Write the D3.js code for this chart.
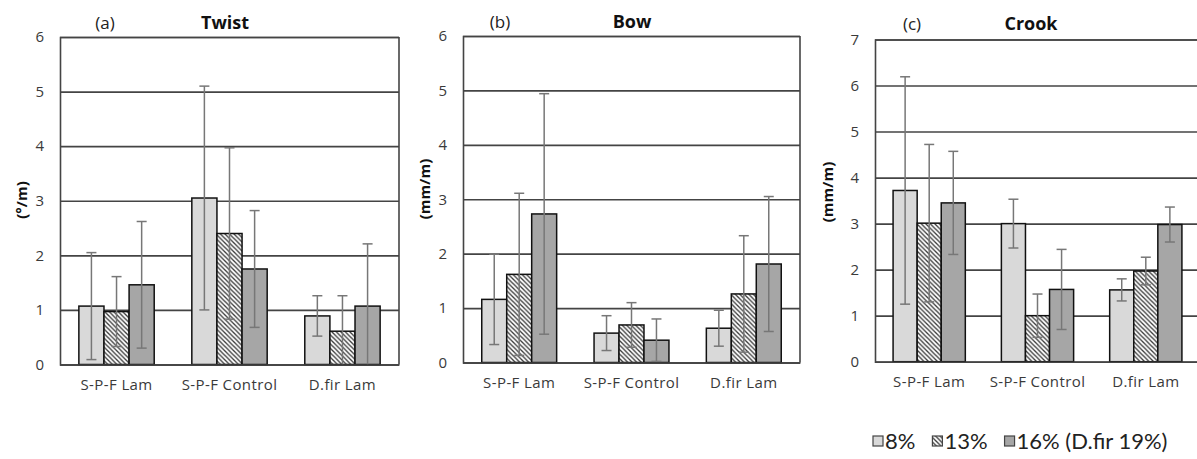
<!DOCTYPE html>
<html>
<head>
<meta charset="utf-8">
<script src="https://cdn.jsdelivr.net/npm/d3@7"></script>
<style>
  html, body { margin: 0; padding: 0; background: #fff; }
  svg { display: block; }
  svg text { font-family: "Open Sans", sans-serif; }
</style>
</head>
<body>
<div id="chart"></div>
<script>
// categories and series
const categories = ["S-P-F Lam", "S-P-F Control", "D.fir Lam"];
const seriesLabels = ["8%", "13%", "16% (D.fir 19%)"];

// values per category: [8%, 13%, 16%]
const twistMean = [[1.07, 0.97, 1.46], [3.05, 2.40, 1.75], [0.89, 0.61, 1.07]];
const twistErr  = [[0.98, 0.64, 1.16], [2.05, 1.57, 1.07], [0.37, 0.65, 1.14]];
const bowMean   = [[1.16, 1.62, 2.73], [0.54, 0.69, 0.41], [0.63, 1.26, 1.81]];
const bowErr    = [[0.83, 1.49, 2.21], [0.32, 0.41, 0.39], [0.33, 1.07, 1.24]];
const crookMean = [[3.72, 3.01, 3.45], [3.00, 1.00, 1.57], [1.56, 1.97, 2.98]];
const crookErr  = [[2.47, 1.71, 1.12], [0.53, 0.47, 0.87], [0.24, 0.30, 0.38]];

const twistTicks = [0, 1, 2, 3, 4, 5, 6];
const bowTicks = [0, 1, 2, 3, 4, 5, 6];
const crookTicks = [0, 1, 2, 3, 4, 5, 6, 7];

const panels = [
  {tag: "(a)", title: "Twist", unit: "(\u00b0/m)", mean: twistMean, err: twistErr, ticks: twistTicks,
   left: 60, right: 399, top: 37, bottom: 364.5, tagX: 105, titleX: 225, titleY: 29, unitX: 22, unitY: 200, box: true},
  {tag: "(b)", title: "Bow", unit: "(mm/m)", mean: bowMean, err: bowErr, ticks: bowTicks,
   left: 463, right: 800, top: 36, bottom: 362.5, tagX: 500, titleX: 632, titleY: 28, unitX: 425, unitY: 189, box: true},
  {tag: "(c)", title: "Crook", unit: "(mm/m)", mean: crookMean, err: crookErr, ticks: crookTicks,
   left: 875, right: 1200, top: 39.5, bottom: 361.7, tagX: 912, titleX: 1031, titleY: 30, unitX: 828, unitY: 192, box: false}
];

const fills = ["#d9d9d9", "url(#hatch)", "#a6a6a6"];

const svg = d3.select("#chart").append("svg")
  .attr("width", 1197)
  .attr("height", 459);

// diagonal hatch for the 13% series
const defs = svg.append("defs");
const pat = defs.append("pattern")
  .attr("id", "hatch")
  .attr("patternUnits", "userSpaceOnUse")
  .attr("width", 4.5)
  .attr("height", 4.5);
pat.append("rect").attr("width", 4.5).attr("height", 4.5).attr("fill", "#fff");
pat.append("path")
  .attr("d", "M0,0 L4.5,4.5 M-1,3.5 L1,5.5 M3.5,-1 L5.5,1")
  .attr("stroke", "#3a3a3a")
  .attr("stroke-width", 1.3);

panels.forEach(p => {
  const g = svg.append("g");

  const x = d3.scaleBand()
    .domain(categories)
    .range([p.left, p.right])
    .paddingInner(0.333)
    .paddingOuter(0.167);

  const xs = d3.scaleBand()
    .domain(d3.range(seriesLabels.length))
    .range([0, x.bandwidth()]);

  const y = d3.scaleLinear()
    .domain([0, d3.max(p.ticks)])
    .range([p.bottom, p.top]);

  // y axis with gridlines
  const yAxis = g.append("g")
    .attr("transform", `translate(${p.left},0)`)
    .call(d3.axisLeft(y)
      .tickValues(p.ticks)
      .tickSize(-(p.right - p.left))
      .tickPadding(16)
      .tickFormat(d3.format("d")));
  yAxis.select(".domain").attr("stroke", "#444").attr("stroke-width", 1.6);
  yAxis.selectAll(".tick line").attr("stroke", "#444").attr("stroke-width", 1.6);
  yAxis.selectAll(".tick text")
    .attr("fill", "#3a3a3a")
    .style("font-size", "15px");

  if (p.box) {
    g.append("line")
      .attr("x1", p.right).attr("x2", p.right)
      .attr("y1", p.top).attr("y2", p.bottom)
      .attr("stroke", "#444").attr("stroke-width", 1.6);
  }

  // bars
  p.mean.forEach((vals, ci) => {
    g.selectAll(null)
      .data(vals)
      .join("rect")
      .attr("x", (d, i) => x(categories[ci]) + xs(i))
      .attr("width", xs.bandwidth())
      .attr("y", d => y(d))
      .attr("height", d => y(0) - y(d))
      .attr("fill", (d, i) => fills[i])
      .attr("stroke", "#111")
      .attr("stroke-width", 1.5);
  });

  // error bars
  p.mean.forEach((vals, ci) => {
    vals.forEach((v, i) => {
      const e = p.err[ci][i];
      const cx = x(categories[ci]) + xs(i) + xs.bandwidth() / 2;
      const hi = v + e, lo = Math.max(0, v - e);
      const eb = g.append("g").attr("stroke", "#777").attr("stroke-width", 1.5);
      eb.append("line").attr("x1", cx).attr("x2", cx).attr("y1", y(hi)).attr("y2", y(lo));
      eb.append("line").attr("x1", cx - 5).attr("x2", cx + 5).attr("y1", y(hi)).attr("y2", y(hi));
      if (v - e > 0) {
        eb.append("line").attr("x1", cx - 5).attr("x2", cx + 5).attr("y1", y(lo)).attr("y2", y(lo));
      }
    });
  });

  // x axis
  const xAxis = g.append("g")
    .attr("transform", `translate(0,${p.bottom})`)
    .call(d3.axisBottom(x).tickSize(0).tickPadding(15));
  xAxis.select(".domain").attr("stroke", "#444").attr("stroke-width", 1.6);
  xAxis.selectAll(".tick text")
    .attr("fill", "#3a3a3a")
    .style("font-size", "15px")
    .style("letter-spacing", "0.4px");

  // titles
  g.append("text")
    .attr("x", p.tagX).attr("y", p.titleY)
    .attr("text-anchor", "middle")
    .style("font-size", "17px")
    .attr("fill", "#222")
    .text(p.tag);
  g.append("text")
    .attr("x", p.titleX).attr("y", p.titleY)
    .attr("text-anchor", "middle")
    .style("font-size", "18px")
    .style("font-weight", "bold")
    .attr("fill", "#111")
    .text(p.title);

  g.append("text")
    .attr("transform", `translate(${p.unitX},${p.unitY}) rotate(-90)`)
    .attr("text-anchor", "middle")
    .attr("dy", "0.35em")
    .style("font-size", "15px")
    .style("font-weight", "bold")
    .attr("fill", "#111")
    .text(p.unit);
});

// legend
const legend = svg.append("g").attr("transform", "translate(873,441)");
let lx = 0;
seriesLabels.forEach((s, i) => {
  legend.append("rect")
    .attr("x", lx).attr("y", -5)
    .attr("width", 10).attr("height", 10)
    .attr("fill", fills[i])
    .attr("stroke", "#444")
    .attr("stroke-width", 1.2);
  const t = legend.append("text")
    .attr("x", lx + 12).attr("y", 0)
    .attr("dy", "0.36em")
    .style("font-family", "Lato, sans-serif")
    .style("font-size", "22px")
    .attr("fill", "#222")
    .text(s);
  lx += 12 + t.node().getComputedTextLength() + 17;
});
</script>
</body>
</html>
